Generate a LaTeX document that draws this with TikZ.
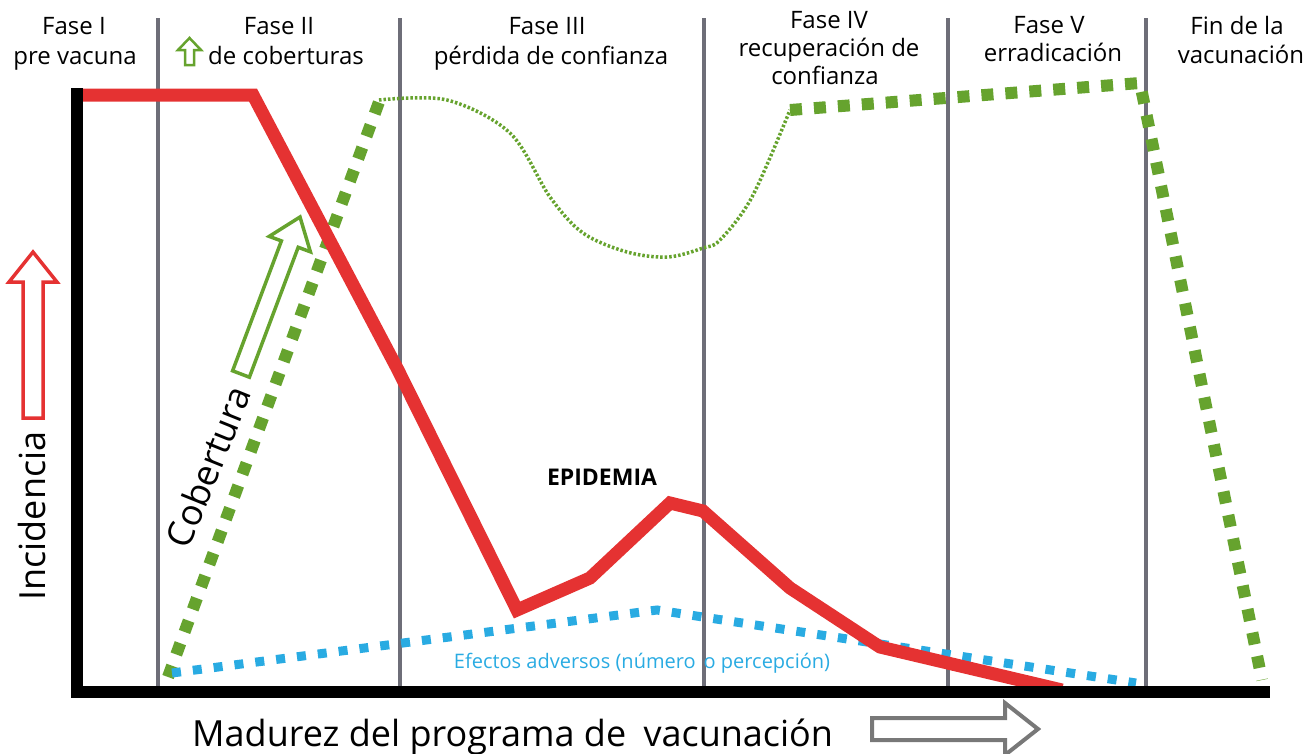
\documentclass[tikz,border=0pt]{standalone}
\usepackage{fontspec}
\setmainfont{Open Sans}
\definecolor{cred}{RGB}{229,50,50}
\definecolor{cgreen}{RGB}{102,163,46}
\definecolor{cblue}{RGB}{41,171,226}
\definecolor{cgray}{RGB}{110,110,120}
\definecolor{carrow}{RGB}{120,120,120}
\begin{document}
\begin{tikzpicture}[x=1pt,y=-1pt,
  hdr/.style={font=\fontsize{24}{28}\selectfont, anchor=base, inner sep=0pt},
  phase/.style={draw=cgray, line width=3.5pt},
  thickgreen/.style={draw=cgreen, line width=12pt, dash pattern=on 12pt off 12pt},
  thingreen/.style={draw=cgreen, line width=3.5pt, dash pattern=on 2.5pt off 2pt},
  bluedot/.style={draw=cblue, line width=9pt, dash pattern=on 9pt off 12pt},
  incid/.style={draw=cred, line width=13pt},
  axisline/.style={draw=black, line width=12pt},
  hollow/.style={line width=3.5pt, line join=miter, fill=white},
  bigtext/.style={font=\fontsize{36}{40}\selectfont, inner sep=0pt}
]
\path[use as bounding box] (0,0) rectangle (1309,753);

% phase separators
\foreach \x in {158,400,704,948,1146}
  \draw[phase] (\x,18) -- (\x,688);

% coverage (green)
\draw[thickgreen] (168,677) -- (379,102);
\draw[thingreen] plot[smooth, tension=0.55] coordinates {(379,100) (447,100) (510,133) (550,197) (583,233) (627,252) (668,257) (703,248) (720,240) (752,197) (790,110)};
\draw[thickgreen] (790,110) -- (1140,83) -- (1262,680);

% adverse effects (blue)
\draw[bluedot] (172,673) -- (657,610) -- (1136,683);

% incidence (red)
\draw[incid] (82,95) -- (253,95) -- (398,370) -- (517,610) -- (590,578) -- (670,503) -- (703,511) -- (790,588) -- (880,647) -- (1062,690);

% axes
\draw[axisline] (77,88) -- (77,692) -- (1270,692);

% red hollow arrow
\draw[cred, hollow] (23,418) -- (23,282) -- (9,282) -- (33,252) -- (57,282) -- (43,282) -- (43,418) -- cycle;
% green hollow arrow (cobertura)
\draw[cgreen, hollow] (232.6,370.8) -- (281.4,240.9) -- (269.2,236.4) -- (300,217) -- (310.4,251.8) -- (298.2,247.3) -- (249.4,377.2) -- cycle;
% gray hollow arrow
\draw[carrow, hollow, line width=4pt] (872,718) -- (1005,718) -- (1005,703) -- (1038,729) -- (1005,755) -- (1005,740) -- (872,740) -- cycle;
% small green arrow in header
\draw[cgreen, hollow, line width=2.5pt] (185,65) -- (185,50) -- (178,50) -- (189.5,38) -- (201,50) -- (194,50) -- (194,65) -- cycle;

% headers
\node[hdr] (h1a) at (74,34) {Fase I};
\node[hdr] (h1b) at (75,64) {pre vacuna};
\node[hdr] (h2a) at (279,34) {Fase II};
\node[hdr] (h2b) at (286,64) {de coberturas};
\node[hdr] (h3a) at (547,34) {Fase III};
\node[hdr] (h3b) at (551,64) {pérdida de confianza};
\node[hdr] (h4a) at (829,28) {Fase IV};
\node[hdr] (h4b) at (829,56) {recuperación de};
\node[hdr] (h4c) at (825,84) {confianza};
\node[hdr] (h5a) at (1049,33) {Fase V};
\node[hdr] (h5b) at (1053,61) {erradicación};
\node[hdr] (h6a) at (1237,34) {Fin de la};
\node[hdr] (h6b) at (1241,63) {vacunación};

% labels
\node[bigtext, rotate=90] (inc) at (32,516) {Incidencia};
\node[bigtext, rotate=68] (cob) at (208,467) {Cobertura};
\node[bigtext, anchor=base west] (mad) at (192,746) {Madurez del programa de\hspace{8pt} vacunación};
\node[font=\bfseries\fontsize{23}{26}\selectfont, inner sep=0pt] (epi) at (602,477) {EPIDEMIA};
\node[text=cblue, font=\fontsize{20}{24}\selectfont, inner sep=0pt] (efe) at (642,663) {Efectos adversos (número\hspace{8pt}o percepción)};
\end{tikzpicture}
\end{document}
